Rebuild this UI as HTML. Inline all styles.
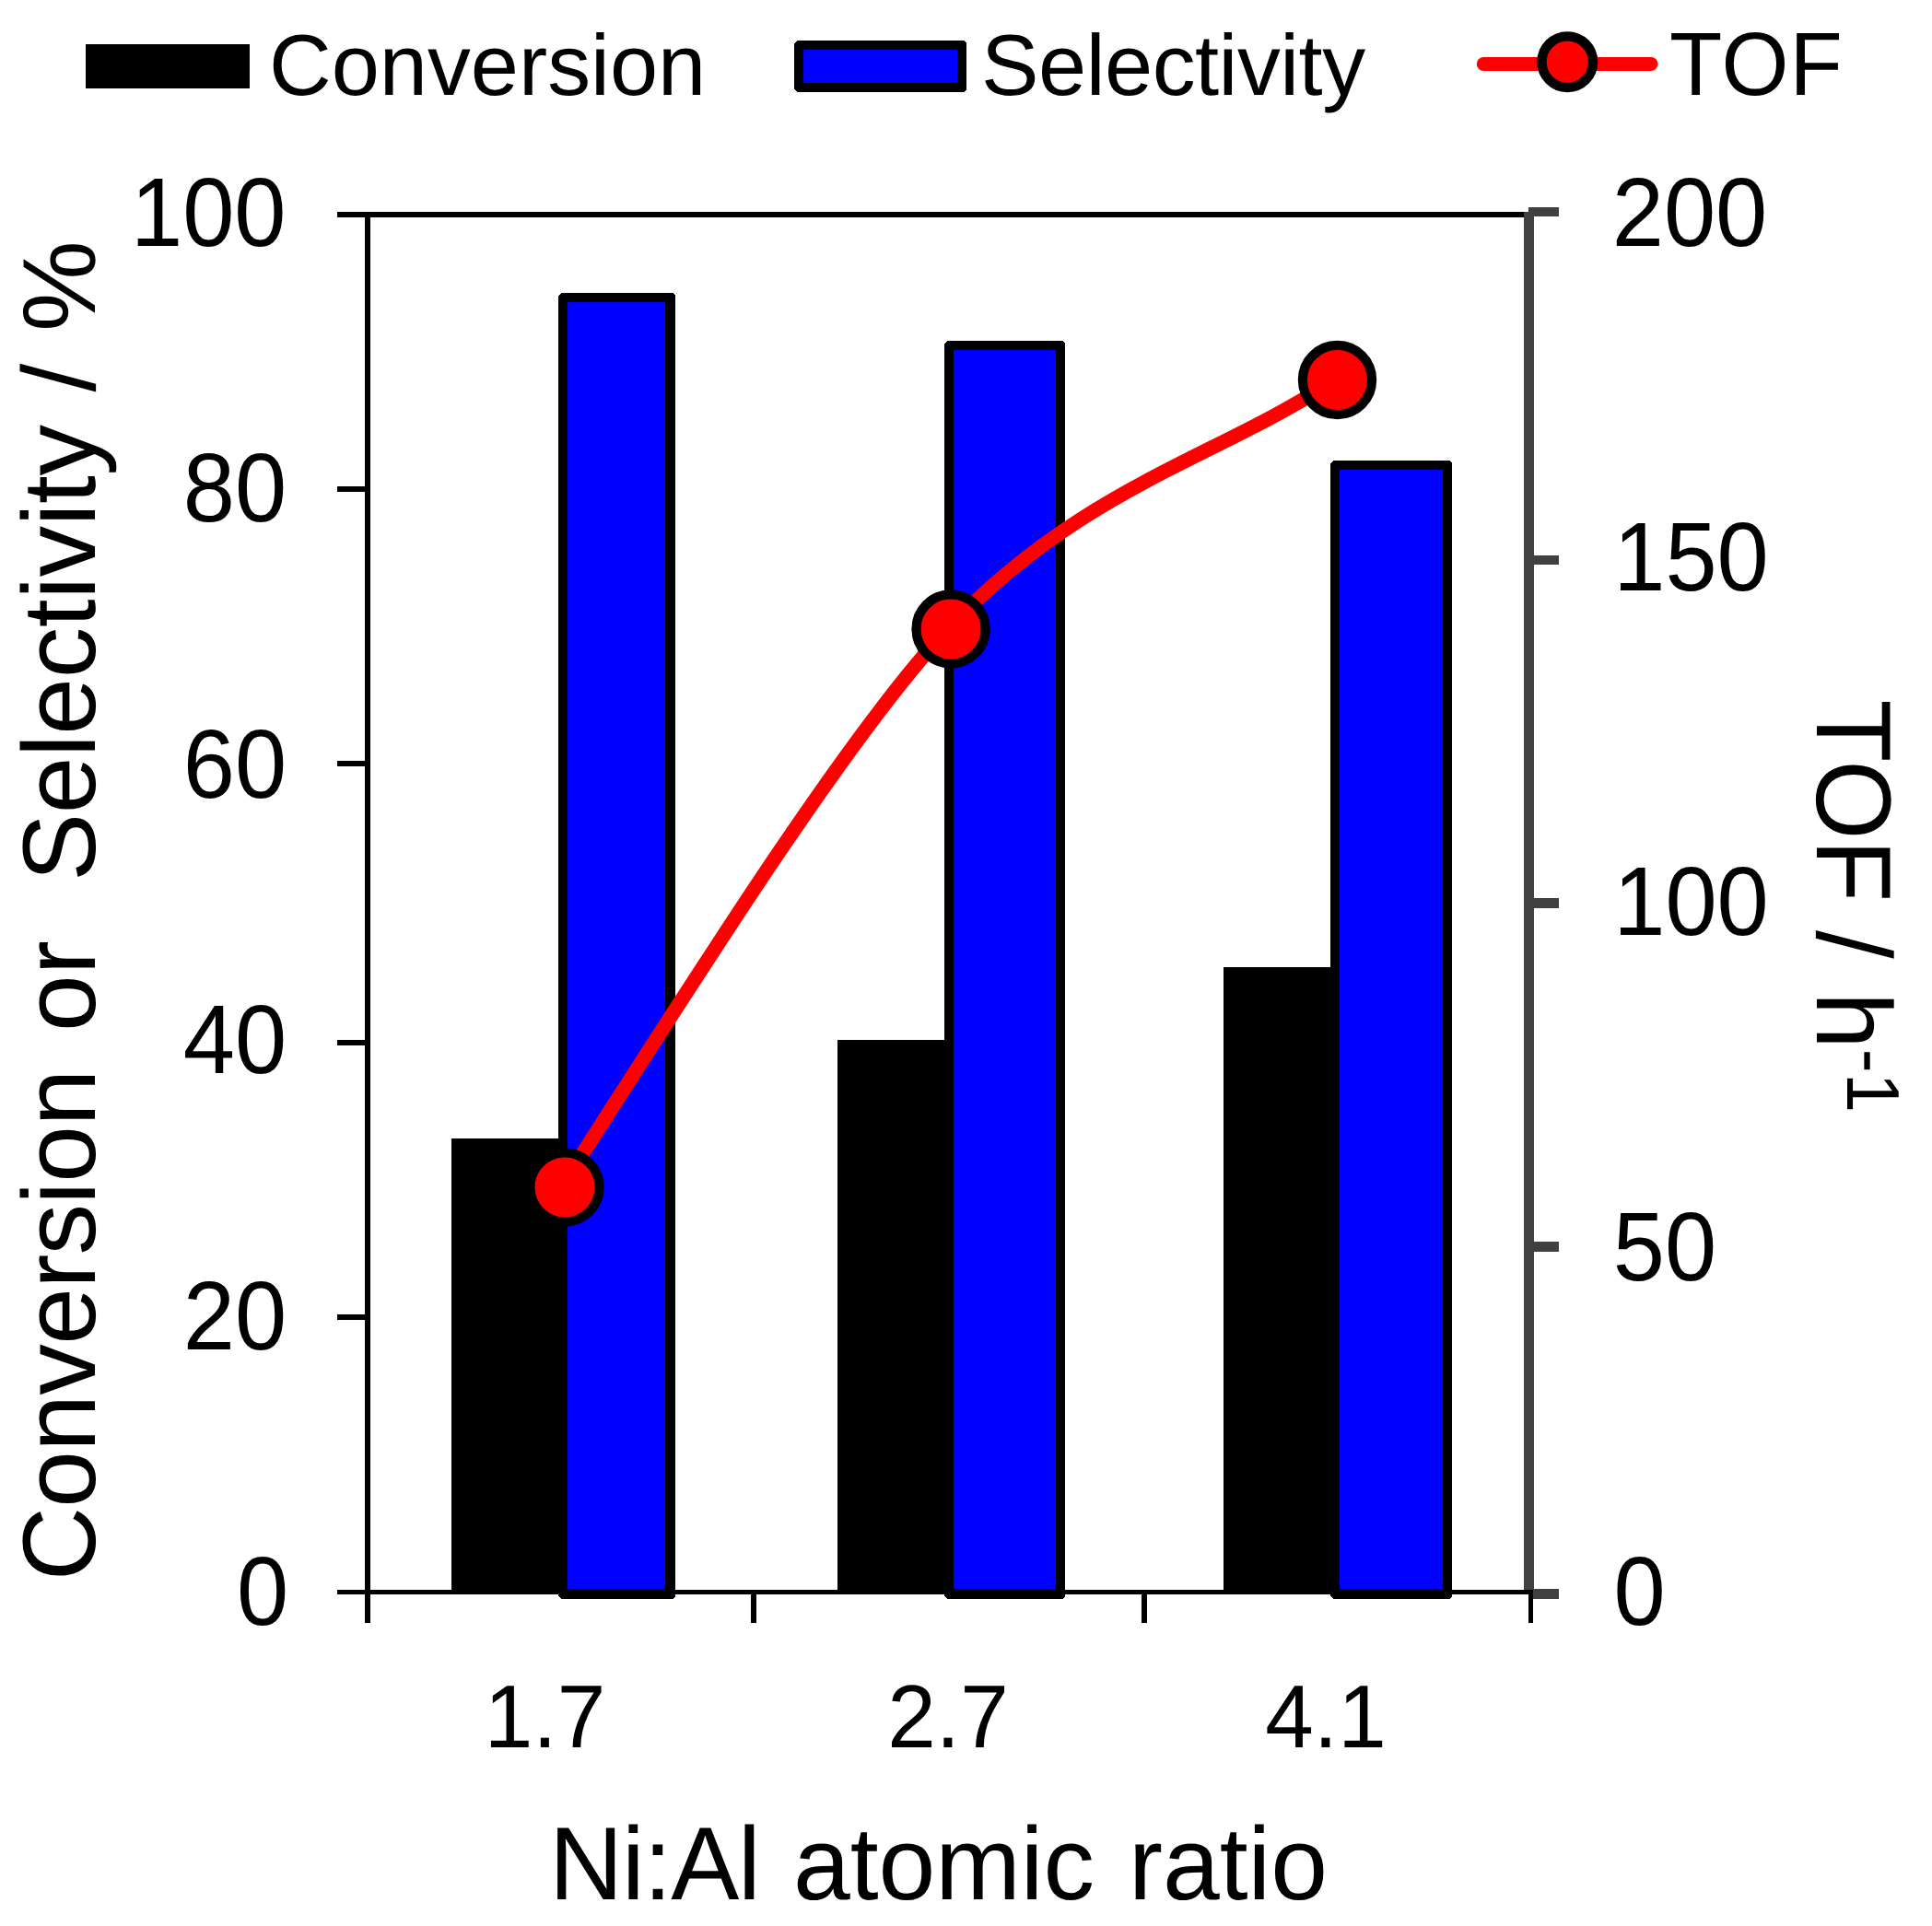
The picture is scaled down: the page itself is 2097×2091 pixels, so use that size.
<!DOCTYPE html>
<html lang="en"><head><meta charset="utf-8"><title>Conversion, Selectivity and TOF vs Ni:Al atomic ratio</title>
<style>html,body{margin:0;padding:0;background:#fff;}svg{display:block;}text{font-family:"Liberation Sans", Arial, sans-serif;fill:#000;}</style>
</head><body>
<svg width="2097" height="2091" viewBox="0 0 2097 2091" shape-rendering="crispEdges" text-rendering="geometricPrecision">
<rect x="0" y="0" width="2097" height="2091" fill="#fff"/>
<g id="legend">
<rect x="93" y="48" width="178" height="48" fill="#000"/>
<text x="292" y="103" font-size="93.75">Conversion</text>
<path d="M865,44 L1046,44 L1049,47 L1049,97 L1046,100 L865,100 L862,97 L862,47 Z" fill="#000"/>
<rect x="872" y="54" width="167" height="36" fill="#00f"/>
<text x="1065" y="103" font-size="93.75" letter-spacing="-0.5">Selectivity</text>
<g shape-rendering="geometricPrecision">
<line x1="1610.3" y1="69.4" x2="1792" y2="69.4" stroke="#f00" stroke-width="15" stroke-linecap="round"/>
<circle cx="1701.3" cy="67.2" r="27.8" fill="#f00" stroke="#000" stroke-width="10.4"/>
</g>
<text transform="translate(1812,103) scale(0.9615,1)" font-size="97.5" letter-spacing="1">TOF</text>
</g>
<g id="bars">
<rect x="490" y="1236" width="121" height="495" fill="#000"/>
<path d="M609,318 L730,318 L733,321 L733,1733 L730,1736 L609,1736 L606,1733 L606,321 Z" fill="#000"/>
<rect x="616" y="328" width="106" height="1397" fill="#00f"/>
<rect x="909" y="1129" width="121" height="602" fill="#000"/>
<path d="M1028,370 L1153,370 L1156,373 L1156,1733 L1153,1736 L1028,1736 L1025,1733 L1025,373 Z" fill="#000"/>
<rect x="1035" y="380" width="111" height="1345" fill="#00f"/>
<rect x="1328" y="1050" width="121" height="681" fill="#000"/>
<path d="M1447,500 L1573,500 L1576,503 L1576,1733 L1573,1736 L1447,1736 L1444,1733 L1444,503 Z" fill="#000"/>
<rect x="1454" y="510" width="112" height="1215" fill="#00f"/>
</g>
<g id="axes">
<rect x="366" y="230" width="1288" height="6" fill="#000"/>
<rect x="396" y="230" width="6" height="1532" fill="#000"/>
<rect x="366" y="528" width="33" height="6" fill="#000"/>
<rect x="366" y="826" width="33" height="6" fill="#000"/>
<rect x="366" y="1129" width="33" height="6" fill="#000"/>
<rect x="366" y="1427" width="33" height="6" fill="#000"/>
<rect x="366" y="1726" width="1298" height="5" fill="#000"/>
<rect x="815" y="1726" width="6" height="36" fill="#000"/>
<rect x="1239" y="1726" width="6" height="36" fill="#000"/>
<rect x="1654" y="230" width="11" height="1497" fill="#404040"/>
<rect x="1659" y="225" width="33" height="10" fill="#404040"/>
<rect x="1659" y="603" width="33" height="10" fill="#404040"/>
<rect x="1659" y="975" width="33" height="11" fill="#404040"/>
<rect x="1659" y="1348" width="33" height="11" fill="#404040"/>
<rect x="1659" y="1725" width="33" height="11" fill="#404040"/>
<rect x="1640" y="1726" width="24" height="5" fill="#000"/>
<rect x="1659" y="1726" width="5" height="36" fill="#000"/>
</g>
<g id="tof" shape-rendering="geometricPrecision">
<path d="M608.2,1290.3 C774.3,1030.3 926.8,791.2 1027.3,684.3 C1171.5,531.1 1318.0,497.6 1447.0,413.9" fill="none" stroke="#f00" stroke-width="15.6" stroke-linecap="round"/>
<circle cx="613" cy="1288.9" r="37.6" fill="#f00" stroke="#000" stroke-width="10.2"/>
<circle cx="1032.1" cy="682.9" r="37.6" fill="#f00" stroke="#000" stroke-width="10.2"/>
<circle cx="1451.5" cy="412.5" r="37.6" fill="#f00" stroke="#000" stroke-width="10.2"/>
</g>
<g id="ylabels">
<text transform="translate(310.5,266.7) scale(0.953,1)" font-size="106" text-anchor="end">100</text>
<text transform="translate(311.2,565.9) scale(0.953,1)" font-size="106" text-anchor="end">80</text>
<text transform="translate(311.2,865.7) scale(0.953,1)" font-size="106" text-anchor="end">60</text>
<text transform="translate(311.2,1164.8) scale(0.953,1)" font-size="106" text-anchor="end">40</text>
<text transform="translate(311.2,1464.8) scale(0.953,1)" font-size="106" text-anchor="end">20</text>
<text transform="translate(313.2,1763.7) scale(0.953,1)" font-size="106" text-anchor="end">0</text>
</g><g id="y2labels">
<text transform="translate(1749.7,266.5) scale(0.953,1)" font-size="106" text-anchor="start">200</text>
<text transform="translate(1751.2,640.8) scale(0.953,1)" font-size="106" text-anchor="start">150</text>
<text transform="translate(1751.2,1015.0) scale(0.953,1)" font-size="106" text-anchor="start">100</text>
<text transform="translate(1750.8,1389.7) scale(0.953,1)" font-size="106" text-anchor="start">50</text>
<text transform="translate(1751.5,1763.9) scale(0.953,1)" font-size="106" text-anchor="start">0</text>
</g><g id="xlabels">
<text transform="translate(591.5,1897) scale(0.975,1)" font-size="97" text-anchor="middle">1.7</text>
<text transform="translate(1029,1897) scale(0.975,1)" font-size="97" text-anchor="middle">2.7</text>
<text transform="translate(1439,1897) scale(0.975,1)" font-size="97" text-anchor="middle">4.1</text>
</g>
<g id="titles">
<text transform="scale(0.987,1)" y="2062" font-size="112.5"><tspan x="603.9" letter-spacing="-1.2">Ni:Al</tspan> <tspan x="872.3">atomic</tspan> <tspan x="1241.1">ratio</tspan></text>
<text transform="translate(103,0) rotate(-90) scale(0.987,1)" font-size="112.5"><tspan x="-1738.9" letter-spacing="-0.7">Conversion</tspan> <tspan x="-1134.8">or</tspan> <tspan x="-969.6" letter-spacing="-0.4">Selectivity</tspan> <tspan x="-431.1">/</tspan> <tspan x="-364.7">%</tspan></text>
<text transform="translate(1971.5,0) rotate(90) scale(0.961,1)" font-size="115.5"><tspan x="790.3">TOF</tspan> <tspan x="1051.0">/</tspan> <tspan x="1120.7">h</tspan><tspan font-size="81" dy="-33">-1</tspan></text>
</g>
</svg></body></html>
